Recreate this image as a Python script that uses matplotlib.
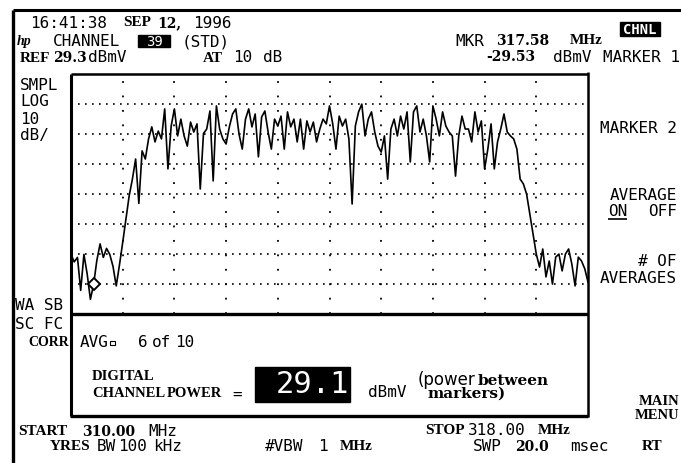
import numpy as np
import matplotlib
matplotlib.use("Agg")
import matplotlib.pyplot as plt
from matplotlib.patches import Rectangle

# sweep settings
start_mhz = 310.0
stop_mhz = 318.0
ref_dbmv = 29.3
db_per_div = 10
n_div_x = 10
n_div_y = 8

# averaged trace in dBmV, one reading every 0.05 MHz from start to stop
trace_dbmv = [
    -31, -33.5, -32, -43, -31, -37.5, -46, -41, -33, -27.5, -32, -29, -31, -35, -41.5, -34.5,
    -27, -19.2, -11.5, -5.9, 0.8, -14, 3.5, 0.8, 7.5, 11.5, 6.5, 10.1, 7.5, 17.5, -2.5, 11.8,
    17.5, 8.5, 14.1, 8.5, 5.1, 13.1, 9.8, 12.5, -9.2, 9.3,
    10.8, 16.8, -6.5, 18.5, 10.8, 7.5, 5.8, 11.5, 15.8, 17.5, 9.1, 4.1, 14.1, 17.5, 11.5, 15.8,
    1.5, 14.8, 16.8, 9.8, 4.1, 14.1, 11.8, 15.1, 4.1, 16.5, 11.5, 14.1, 6.5, 14.1, 4.1, 13.5,
    9.8, 13.1, 6.5, 10.8, 14.1, 12.5, 18.5, 12.5,
    4.1, 15.1, 11.8, 14.1, 7.5, -14.2, 11.8, 16.5, 19.1, 8.5, 14.1, 16.5, 9.8, 5.1, 3.1, 8.5,
    -5.9, 10.8, 14.1, 8.5, 15.1, 10.8, 16.5, -0.2, 16.5, 18.5, 9.8, 14.1, 8.5, -0.2, 18.5, 14.1,
    8.5, 16.5, 11.8, 9.8, 8.5, -4.9, 8.5, 15.1,
    10.8, 10.8, 6.5, 16.5, 9.8, 13.5, -2.5, 4.1, 12.5, -2.5, 6.5, 10.8, 15.8, 9.8, 8.5, 7.5,
    4.1, -5.9, -7.5, -10.9, -17.5, -24.2, -30.9, -35.2, -29.2, -38.5, -33.2, -40.9, -31.9, -30.9,
    -36.5, -30.9, -29.2, -34.2, -41.5, -31.9, -33.2, -35.8, -40.2,
]
marker_mhz = 310.35

W, H = 681, 464
fonts = {
    "mono": dict(family="DejaVu Sans Mono", fontsize=11.5),
    "serif": dict(family="Liberation Serif", fontweight="bold", fontsize=11),
    "num": dict(family="DejaVu Serif", fontweight="bold", fontsize=10),
}

fig = plt.figure(figsize=(W / 100, H / 100), dpi=100)
bg = fig.add_axes([0, 0, 1, 1])
bg.set_xlim(0, W)
bg.set_ylim(H, 0)
bg.axis("off")


def put(x, y, s, kind="mono", ha="left", **kw):
    props = dict(fonts[kind])
    props.update(kw)
    bg.text(x, y, s, ha=ha, va="center", **props)


def seg(x0, y0, x1, y1, lw=2.0):
    bg.plot([x0, x1], [y0, y1], color="black", lw=lw, solid_capstyle="butt")


# outer frame and boxes
seg(13, 11, W, 11, 2.2)
seg(13, 11, 13, H, 2.4)
seg(71, 74.5, 588, 74.5, 1.8)
seg(71, 74.5, 71, 417, 2.2)
seg(588, 73, 588, 418, 1.8)
seg(70, 314.5, 588, 314.5, 2.4)
seg(70, 417, 588, 417, 2.4)

# trace graticule
tx0, tx1, ty0, ty1 = 71, 588, 74.5, 314.5
ax = fig.add_axes([tx0 / W, 1 - ty1 / H, (tx1 - tx0) / W, (ty1 - ty0) / H])
ax.set_facecolor("none")
bottom_db = ref_dbmv - db_per_div * n_div_y
ax.set_xlim(start_mhz, stop_mhz)
ax.set_ylim(bottom_db, ref_dbmv)
for s in ax.spines.values():
    s.set_visible(False)
ax.set_xticks([])
ax.set_yticks([])
for k in range(1, n_div_y):
    ax.axhline(bottom_db + k * db_per_div, color="black", lw=1.2, ls=(0, (1, 3.2)))
for k in range(1, n_div_x):
    ax.axvline(start_mhz + k * (stop_mhz - start_mhz) / n_div_x, color="black", lw=1.3,
               ls=(0, (1, 7)))

freqs = np.linspace(start_mhz, stop_mhz, len(trace_dbmv))
ax.plot(freqs, trace_dbmv, color="black", lw=1.2)
mk = int(np.argmin(np.abs(freqs - marker_mhz)))
ax.plot(freqs[mk], trace_dbmv[mk], marker="D", ms=6, mfc="white", mec="black", mew=1.4)

# header
put(30, 23, "16:41:38")
put(123, 23, "SEP", "serif")
put(157, 23, "12,", "num")
put(193, 23, "1996")
bg.text(17, 42, "hp", family="Liberation Serif", fontstyle="italic", fontweight="bold",
        fontsize=10, va="center")
put(53, 42, "CHANNEL")
bg.add_patch(Rectangle((138, 36), 32, 12, color="black"))
put(154, 42, "39", color="white", ha="center", fontsize=10)
put(182, 42, "(STD)")
put(455, 41, "MKR")
put(496, 41, "317.58", "num")
put(570, 41, "MHz", "serif")
bg.add_patch(Rectangle((620, 23), 40, 14, color="black"))
put(640, 30, "CHNL", color="white", ha="center", fontsize=10, fontweight="bold")
put(20, 58, "REF", "serif")
put(53, 58, "29.3", "num")
put(88, 58, "dBmV")
put(203, 58, "AT", "serif")
put(233, 58, "10")
put(263, 58, "dB")
put(486, 57, "-29.53", "num")
put(553, 57, "dBmV")
put(680, 57, "MARKER 1", ha="right")

# left column
put(20, 85, "SMPL")
put(20, 102, "LOG")
put(20, 119, "10")
put(20, 136, "dB/")
put(15, 306, "WA SB")
put(15, 325, "SC FC")
put(28, 343, "CORR", "serif", fontsize=10)

# right softkeys
put(677, 129, "MARKER 2", ha="right")
put(677, 196, "AVERAGE", ha="right")
put(608, 212, "ON")
seg(608, 220, 627, 220, 1.2)
put(677, 212, "OFF", ha="right")
put(677, 262, "# OF", ha="right")
put(677, 279, "AVERAGES", ha="right")
put(679, 402, "MAIN", "serif", ha="right", fontsize=10.5)
put(679, 416, "MENU", "serif", ha="right", fontsize=10.5)

# lower panel
put(80, 343, "AVG")
bg.add_patch(Rectangle((110, 342), 5, 4, fill=False, lw=0.8))
put(138, 343, "6")
put(152, 343, "of")
put(175, 343, "10")
put(92, 377, "DIGITAL", "serif", fontsize=10.5)
put(92, 394, "CHANNEL", "serif", fontsize=10.5)
put(167, 394, "POWER", "serif", fontsize=10.5)
put(232, 394, "=")
bg.add_patch(Rectangle((255, 368), 95, 35, color="black"))
put(312, 385, "29.1", color="white", ha="center", fontsize=22)
put(368, 393, "dBmV")
put(418, 380, "(power", family="DejaVu Sans", fontsize=12)
put(478, 381, "between", "num", fontsize=11)
put(428, 394, "markers)", "num", fontsize=11)

# footer
put(18, 432, "START", "serif")
put(82, 432, "310.00", "num")
put(148, 432, "MHz")
put(50, 447, "YRES", "serif")
put(97, 447, "BW")
put(118, 447, "100")
put(153, 447, "kHz")
put(265, 447, "#VBW")
put(318, 447, "1")
put(340, 447, "MHz", "serif")
put(425, 431, "STOP", "serif")
put(468, 431, "318.00")
put(538, 431, "MHz", "serif")
put(473, 447, "SWP")
put(515, 447, "20.0", "num")
put(570, 447, "msec")
put(642, 447, "RT", "serif")

fig.savefig("out.png", dpi=100)
